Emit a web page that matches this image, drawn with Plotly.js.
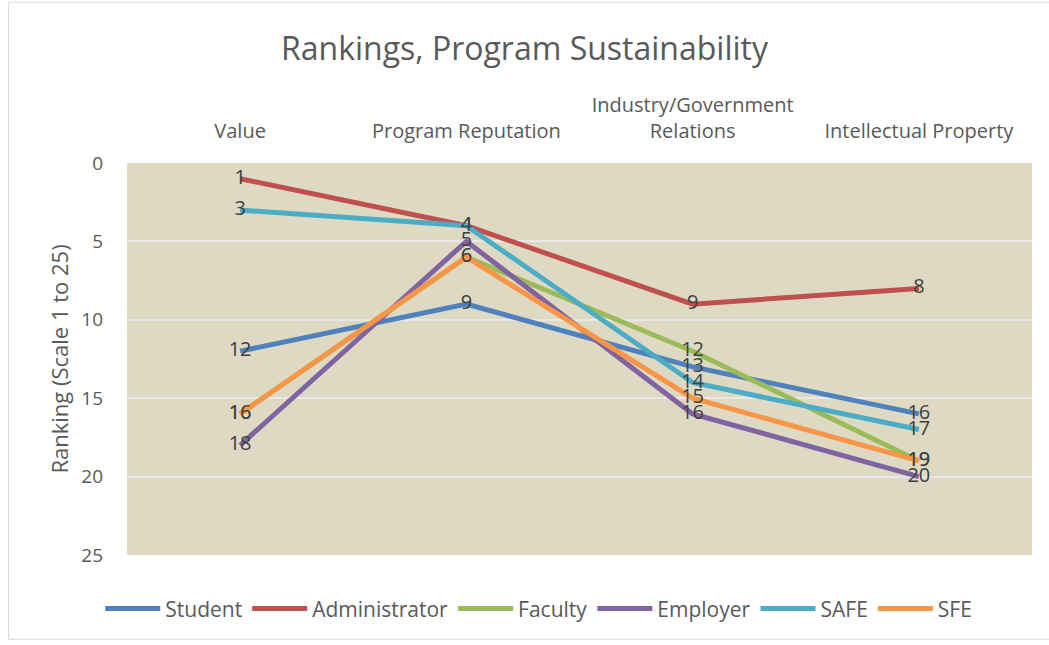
<!DOCTYPE html>
<html>
<head>
<meta charset="utf-8">
<script src="https://cdn.plot.ly/plotly-3.0.1.min.js"></script>
<style>
html,body{margin:0;padding:0;background:#fff;}
#chart{width:1049px;height:645px;}
</style>
</head>
<body>
<div id="chart"></div>
<script>
const categories = ["Value", "Program Reputation", "Industry/Government<br>Relations", "Intellectual Property"];
const student = [12, 9, 13, 16];
const administrator = [1, 4, 9, 8];
const faculty = [16, 6, 12, 19];
const employer = [18, 5, 16, 20];
const safe = [3, 4, 14, 17];
const sfe = [16, 6, 15, 19];
const yTicks = [0, 5, 10, 15, 20, 25];

const seriesDefs = [
  {name: "Student", y: student, color: "#4F81BD"},
  {name: "Administrator", y: administrator, color: "#C0504D"},
  {name: "Faculty", y: faculty, color: "#9BBB59"},
  {name: "Employer", y: employer, color: "#8064A2"},
  {name: "SAFE", y: safe, color: "#4BACC6"},
  {name: "SFE", y: sfe, color: "#F79646"}
];

const FONT = "Open Sans, Noto Sans, sans-serif";
const traces = seriesDefs.map(s => ({
  type: "scatter",
  mode: "lines+text",
  name: s.name,
  x: categories,
  y: s.y,
  text: s.y.map(String),
  textposition: "middle center",
  textfont: {family: FONT, size: 20, color: "#404040"},
  line: {color: s.color, width: 5},
  cliponaxis: false
}));

const layout = {
  width: 1049,
  height: 645,
  margin: {l: 127, r: 17, t: 163, b: 90, autoexpand: false},
  paper_bgcolor: "#ffffff",
  plot_bgcolor: "#DDD9C3",
  font: {family: FONT, color: "#595959"},
  title: {
    text: "Rankings, Program Sustainability",
    font: {family: FONT, size: 32, color: "#595959"},
    x: 0.5, xanchor: "center", y: 0.925, yanchor: "middle"
  },
  xaxis: {
    type: "category",
    side: "top",
    range: [-0.5, 3.5],
    showgrid: false,
    zeroline: false,
    showline: false,
    ticks: "",
    tickangle: 0,
    ticklabelstandoff: 20,
    tickfont: {family: FONT, size: 20, color: "#595959"},
    fixedrange: true
  },
  yaxis: {
    autorange: false,
    range: [25, 0],
    tickvals: yTicks,
    ticktext: yTicks.map(String),
    showgrid: true,
    gridcolor: "#E8E8E8",
    gridwidth: 2,
    zeroline: false,
    showline: false,
    ticks: "",
    ticklen: 0,
    ticklabelstandoff: 23,
    tickfont: {family: FONT, size: 19, color: "#595959"},
    title: {text: "Ranking (Scale 1 to 25)", font: {family: FONT, size: 22, color: "#595959"}, standoff: 6},
    fixedrange: true
  },
  legend: {
    orientation: "h",
    x: 0.455, xanchor: "center",
    y: -0.085, yanchor: "top",
    font: {family: FONT, size: 21, color: "#595959"},
    itemwidth: 55,
    tracegroupgap: 0
  },
  showlegend: true,
  shapes: [{
    type: "rect",
    xref: "paper", yref: "paper",
    x0: -0.131, x1: 1.02, y0: -0.215, y1: 1.41,
    line: {color: "#D9D9D9", width: 1},
    layer: "below"
  }]
};

Plotly.newPlot("chart", traces, layout, {displayModeBar: false, staticPlot: true});
</script>
</body>
</html>
